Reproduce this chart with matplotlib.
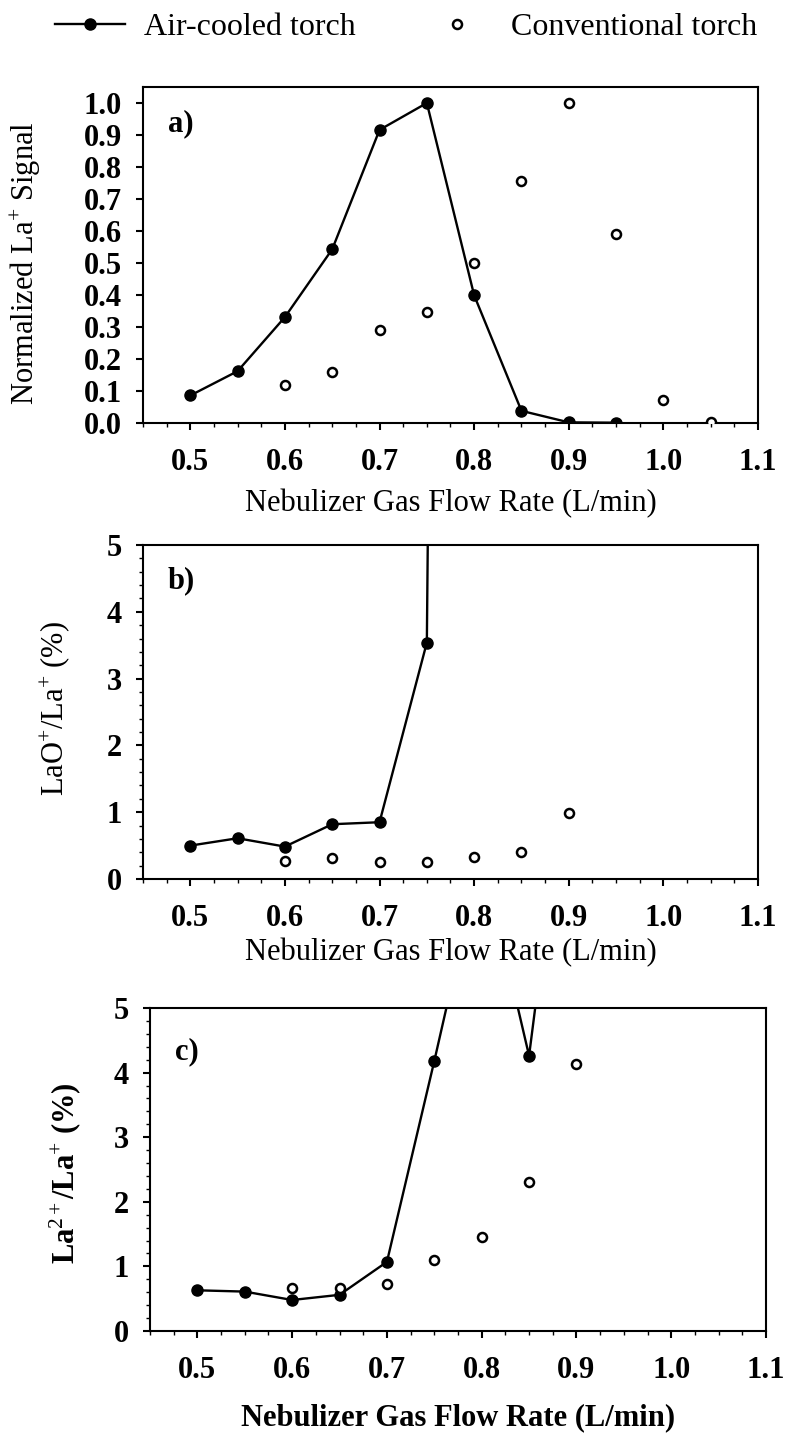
import matplotlib
matplotlib.use('Agg')
import matplotlib.pyplot as plt
from matplotlib.ticker import MultipleLocator, FormatStrFormatter

plt.rcParams['font.family'] = ['Liberation Serif', 'DejaVu Serif']
plt.rcParams['mathtext.fontset'] = 'custom'
plt.rcParams['mathtext.rm'] = 'Liberation Serif'
plt.rcParams['mathtext.it'] = 'Liberation Serif:italic'
plt.rcParams['mathtext.bf'] = 'Liberation Serif:bold'

# ---- data ----
a_air_x = [0.50, 0.55, 0.60, 0.65, 0.70, 0.75, 0.80, 0.85, 0.90, 0.95]
a_air_y = [0.086, 0.162, 0.331, 0.543, 0.916, 1.000, 0.399, 0.038, 0.002, 0.001]
a_conv_x = [0.60, 0.65, 0.70, 0.75, 0.80, 0.85, 0.90, 0.95, 1.00, 1.05]
a_conv_y = [0.119, 0.159, 0.292, 0.347, 0.501, 0.757, 1.000, 0.592, 0.073, 0.003]

b_air_x = [0.50, 0.55, 0.60, 0.65, 0.70, 0.75, 0.80]
b_air_y = [0.50, 0.61, 0.485, 0.82, 0.85, 3.54, 80.0]
b_conv_x = [0.60, 0.65, 0.70, 0.75, 0.80, 0.85, 0.90]
b_conv_y = [0.27, 0.32, 0.26, 0.25, 0.335, 0.40, 0.99]

c_air_x = [0.50, 0.55, 0.60, 0.65, 0.70, 0.75, 0.80, 0.85, 0.90]
c_air_y = [0.63, 0.61, 0.48, 0.56, 1.07, 4.18, 7.4, 4.26, 10.0]
c_conv_x = [0.60, 0.65, 0.70, 0.75, 0.80, 0.85, 0.90]
c_conv_y = [0.66, 0.66, 0.73, 1.10, 1.45, 2.31, 4.14]

x_ticks = [0.5, 0.6, 0.7, 0.8, 0.9, 1.0, 1.1]
xlabel = 'Nebulizer Gas Flow Rate (L/min)'
ylabels = [r'Normalized La$^{+}$ Signal', r'LaO$^{+}$/La$^{+}$ (%)', r'La$^{2+}$/La$^{+}$ (%)']
panel_tags = ['a)', 'b)', 'c)']

W, H = 789, 1439
fig = plt.figure(figsize=(W / 100, H / 100), dpi=100)

def frac_rect(left, top, right, bottom):
    return [left / W, 1 - bottom / H, (right - left) / W, (bottom - top) / H]

axes = [fig.add_axes(frac_rect(143, 87, 758, 423)),
        fig.add_axes(frac_rect(143, 545, 758, 879)),
        fig.add_axes(frac_rect(150, 1008, 766, 1331))]

datasets = [(a_air_x, a_air_y, a_conv_x, a_conv_y),
            (b_air_x, b_air_y, b_conv_x, b_conv_y),
            (c_air_x, c_air_y, c_conv_x, c_conv_y)]

FS = 22
handles = None
for i, ax in enumerate(axes):
    ax_x, ax_y, cv_x, cv_y = datasets[i]
    h1, = ax.plot(ax_x, ax_y, '-', color='black', lw=1.7, marker='o', ms=8,
                  mfc='black', mec='black', zorder=3, label='Air-cooled torch')
    h2, = ax.plot(cv_x, cv_y, linestyle='none', marker='o', ms=6.5, mfc='white',
                  mec='black', mew=1.8, zorder=4, label='Conventional torch')
    if handles is None:
        handles = [h1, h2]
    ax.set_xlim(0.45, 1.1)
    ax.set_xticks(x_ticks)
    ax.xaxis.set_major_formatter(FormatStrFormatter('%.1f'))
    ax.xaxis.set_minor_locator(MultipleLocator(0.025))
    if i == 0:
        ax.set_ylim(0, 1.05)
        ax.set_yticks([k / 10 for k in range(11)])
        ax.yaxis.set_major_formatter(FormatStrFormatter('%.1f'))
    else:
        ax.set_ylim(0, 5)
        ax.set_yticks([0, 1, 2, 3, 4, 5])
        ax.yaxis.set_minor_locator(MultipleLocator(0.2))
    for s in ax.spines.values():
        s.set_linewidth(1.5)
    ax.tick_params(which='major', direction='out', length=5, width=1.5,
                   labelsize=FS)
    ax.tick_params(axis='x', which='major', pad=13)
    ax.tick_params(axis='y', which='major', pad=10)
    ax.tick_params(which='minor', direction='out', length=3, width=1.0)
    for lab in ax.get_xticklabels() + ax.get_yticklabels():
        lab.set_fontweight('bold')
    wt = 'bold' if i == 2 else 'normal'
    ax.set_xlabel(xlabel, fontsize=FS, fontweight=wt)
    ax.set_ylabel(ylabels[i], fontsize=FS, fontweight=wt)
    ax.text(0.04, 0.935 if i < 2 else 0.91, panel_tags[i], transform=ax.transAxes,
            fontsize=FS, fontweight='bold', ha='left', va='top')

axes[0].xaxis.set_label_coords(0.5, -0.195)
axes[1].xaxis.set_label_coords(0.5, -0.175)
axes[2].xaxis.set_label_coords(0.5, -0.225)
axes[0].yaxis.set_label_coords(-0.163, 0.476)
axes[1].yaxis.set_label_coords(-0.115, 0.51)
axes[2].yaxis.set_label_coords(-0.109, 0.49)

fig.legend(handles=handles, loc='upper left', bbox_to_anchor=(55 / W, 1 - 13 / H),
           ncol=2, frameon=False, prop={'size': 23}, handlelength=2.2,
           handletextpad=0.6, columnspacing=2.05, borderpad=0, borderaxespad=0)

fig.savefig('out.png', dpi=100)
